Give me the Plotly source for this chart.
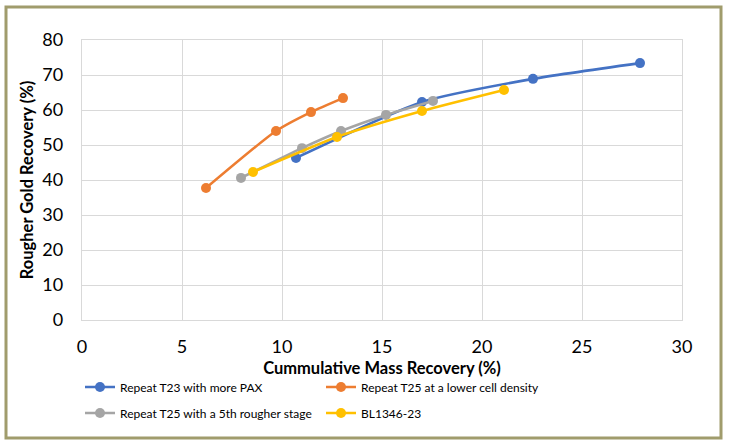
import plotly.graph_objects as go

series_names = [
    "Repeat T23 with more PAX",
    "Repeat T25 at a lower cell density",
    "Repeat T25 with a 5th rougher stage",
    "BL1346-23",
]
colors = ["#4472C4", "#ED7D31", "#A5A5A5", "#FFC000"]

t23_mass = [10.7, 17.0, 22.55, 27.9]
t23_gold = [46.3, 62.3, 68.9, 73.4]

t25_low_mass = [6.2, 9.7, 11.45, 13.05]
t25_low_gold = [37.7, 54.0, 59.4, 63.4]

t25_5th_mass = [7.95, 11.0, 12.95, 15.2, 17.55]
t25_5th_gold = [40.6, 49.1, 54.0, 58.6, 62.6]

bl_mass = [8.55, 12.75, 17.0, 21.1]
bl_gold = [42.3, 52.3, 59.7, 65.7]

xs = [t23_mass, t25_low_mass, t25_5th_mass, bl_mass]
ys = [t23_gold, t25_low_gold, t25_5th_gold, bl_gold]
legends = ["legend", "legend", "legend2", "legend2"]

fig = go.Figure()
for name, c, x, y, lg in zip(series_names, colors, xs, ys, legends):
    fig.add_trace(go.Scatter(
        x=x, y=y, name=name, mode="lines+markers",
        line=dict(color=c, width=2.6, shape="spline", smoothing=0.6),
        marker=dict(color=c, size=10),
        legend=lg,
    ))

W, H = 729, 445
L, R, T, B = 82, 47, 40, 125
pw, ph = W - L - R, H - T - B

def px_x(p):
    return (p - L) / pw

def px_y(p):
    return (H - B - p) / ph

fig.add_shape(type="rect", xref="paper", yref="paper",
              x0=px_x(6), x1=px_x(721), y0=px_y(7), y1=px_y(438),
              line=dict(color="#A09C6C", width=3), fillcolor="rgba(0,0,0,0)", layer="below")

font = "Lato"
leg_common = dict(orientation="h", xanchor="left", yanchor="middle",
                  font=dict(size=12, family=font), entrywidth=196, itemwidth=30,
                  bgcolor="rgba(0,0,0,0)")
fig.update_layout(
    width=W, height=H,
    margin=dict(l=L, r=R, t=T, b=B),
    plot_bgcolor="white", paper_bgcolor="white",
    font=dict(family=font, color="#000000"),
    showlegend=True,
    legend=dict(x=px_x(80), y=px_y(387), **leg_common),
    legend2=dict(x=px_x(80), y=px_y(413), **leg_common),
    xaxis=dict(
        range=[0, 30], dtick=5, showgrid=True, gridcolor="#D9D9D9", gridwidth=1.3,
        showline=True, linecolor="#D9D9D9", linewidth=1.3, mirror=True, zeroline=False,
        tickfont=dict(size=18, family=font), ticks="", ticklabelstandoff=10,
        title=dict(text="<b>Cummulative Mass Recovery (%)</b>", font=dict(size=16.5, family=font), standoff=6),
    ),
    yaxis=dict(
        range=[0, 80], dtick=10, showgrid=True, gridcolor="#D9D9D9", gridwidth=1.3,
        showline=True, linecolor="#D9D9D9", linewidth=1.3, mirror=True, zeroline=False,
        tickfont=dict(size=18, family=font), ticks="", ticklabelstandoff=14,
        title=dict(text="<b>Rougher Gold Recovery (%)</b>", font=dict(size=16.5, family=font), standoff=4),
    ),
)

fig.write_html("out.html", config={"displayModeBar": False},
               post_script="document.body.style.margin='0px';")
